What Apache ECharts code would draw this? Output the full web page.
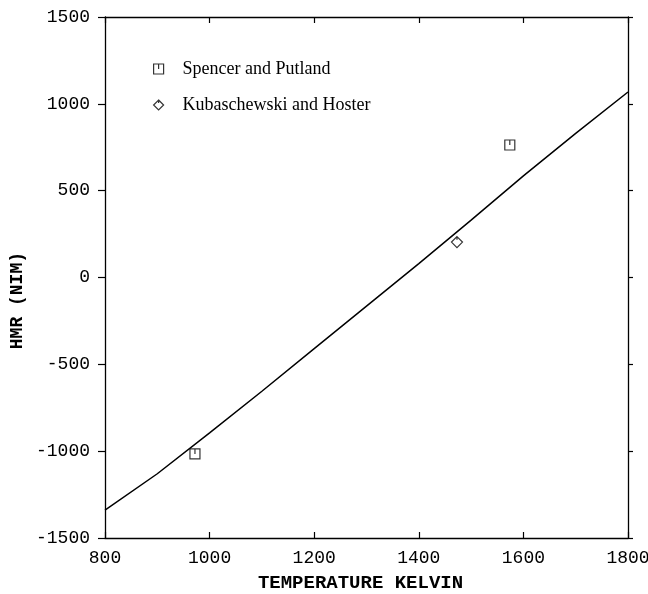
<!DOCTYPE html>
<html>
<head>
<meta charset="utf-8">
<script src="https://cdn.jsdelivr.net/npm/echarts@6/dist/echarts.min.js"></script>
<style>html,body{margin:0;padding:0;background:#fff;}#c{width:648px;height:594px;}</style>
</head>
<body>
<div id="c"></div>
<script>
// Fitted curve (temperature K, HMR)
var curveT = [800, 900, 1000, 1100, 1200, 1300, 1400, 1500, 1600, 1700, 1800];
var curveH = [-1339, -1130, -895, -655, -410, -165, 80, 330, 585, 830, 1068];
// Experimental points
var spencerT = [972, 1574];
var spencerH = [-1016, 763];
var kubaT = [1473];
var kubaH = [204];
// Axis labels
var xName = 'TEMPERATURE KELVIN';
var yName = 'HMR (NIM)';
var seriesNames = ['Spencer and Putland', 'Kubaschewski and Hoster'];

var sqPath = 'path://M0,0H10V10H0Z M5,0V5';
var diaPath = 'path://M5,0L10,5L5,10L0,5Z M5,0V3';

function pairs(a, b) { return a.map(function (v, i) { return [v, b[i]]; }); }
function plain(v) { return String(v); }

var mono = 'Liberation Mono, Courier New, monospace';
var serif = 'Liberation Serif, Times New Roman, serif';

var chart = echarts.init(document.getElementById('c'), null, {renderer: 'canvas'});
chart.setOption({
  backgroundColor: '#fff',
  animation: false,
  grid: {left: 105, right: 20, top: 17, bottom: 56, containLabel: false, outerBoundsMode: 'none'},
  legend: {
    orient: 'vertical', left: 148, top: 55, itemGap: 18,
    itemWidth: 10, itemHeight: 10,
    textStyle: {fontFamily: serif, fontSize: 18, color: '#000', padding: [0, 0, 0, 14]},
    data: [
      {name: seriesNames[0], icon: sqPath, itemStyle: {color: 'transparent', borderColor: '#000', borderWidth: 1.2}},
      {name: seriesNames[1], icon: diaPath, itemStyle: {color: 'transparent', borderColor: '#000', borderWidth: 1.2}}
    ]
  },
  xAxis: [{
    type: 'value', min: 800, max: 1800, interval: 200, position: 'bottom',
    name: xName, nameLocation: 'middle', nameGap: 36,
    nameTextStyle: {fontFamily: mono, fontSize: 19, fontWeight: 'bold', color: '#000', padding: [0, 12, 0, 0]},
    axisLine: {onZero: false, lineStyle: {color: '#000', width: 1.3}},
    axisTick: {inside: true, length: 6, lineStyle: {color: '#000', width: 1.2}},
    axisLabel: {fontFamily: mono, fontSize: 18, color: '#000', margin: 11, formatter: plain},
    splitLine: {show: false}
  }, {
    type: 'value', min: 800, max: 1800, interval: 200, position: 'top',
    axisLine: {onZero: false, lineStyle: {color: '#000', width: 1.3}},
    axisTick: {inside: true, length: 6, lineStyle: {color: '#000', width: 1.2}},
    axisLabel: {show: false},
    splitLine: {show: false}
  }],
  yAxis: [{
    type: 'value', min: -1500, max: 1500, interval: 500, position: 'left',
    axisLine: {onZero: false, lineStyle: {color: '#000', width: 1.3}},
    axisTick: {inside: false, length: 7, lineStyle: {color: '#000', width: 1.2}},
    axisLabel: {fontFamily: mono, fontSize: 18, color: '#000', margin: 15, formatter: plain},
    splitLine: {show: false}
  }, {
    type: 'value', min: -1500, max: 1500, interval: 500, position: 'right',
    axisLine: {onZero: false, lineStyle: {color: '#000', width: 1.3}},
    axisTick: {inside: false, length: 5, lineStyle: {color: '#000', width: 1.2}},
    axisLabel: {show: false},
    splitLine: {show: false}
  }],
  graphic: [{
    type: 'text', left: 8, top: 252, rotation: Math.PI / 2,
    style: {text: yName, font: 'bold 18px ' + mono, fill: '#000'}
  }],
  series: [{
    type: 'line', name: 'fit', data: pairs(curveT, curveH),
    showSymbol: false, symbol: 'none',
    lineStyle: {color: '#000', width: 1.5}
  }, {
    type: 'scatter', name: seriesNames[0], data: pairs(spencerT, spencerH),
    symbol: sqPath, symbolSize: 10,
    itemStyle: {color: 'transparent', borderColor: '#000', borderWidth: 1.2}
  }, {
    type: 'scatter', name: seriesNames[1], data: pairs(kubaT, kubaH),
    symbol: diaPath, symbolSize: 11,
    itemStyle: {color: 'transparent', borderColor: '#000', borderWidth: 1.2}
  }]
});
</script>
</body>
</html>
